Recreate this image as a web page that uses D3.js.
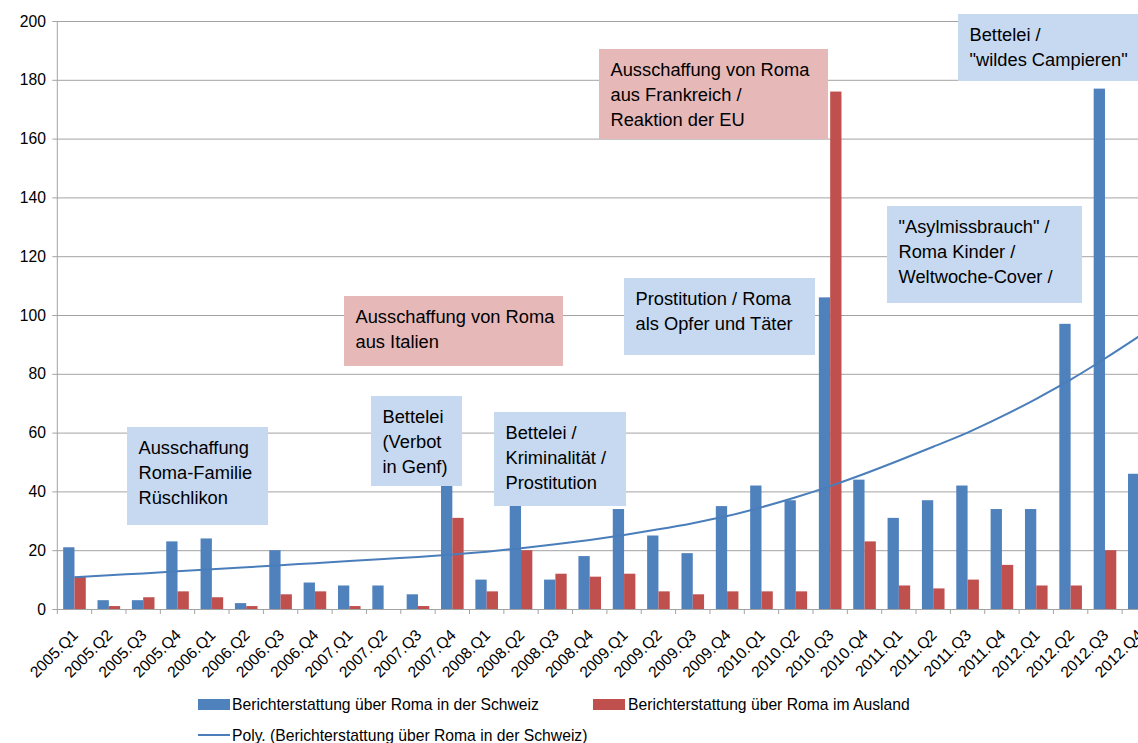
<!DOCTYPE html>
<html>
<head>
<meta charset="utf-8">
<script src="https://cdn.jsdelivr.net/npm/d3@7"></script>
<style>
  html, body { margin: 0; padding: 0; background: #fff; overflow: hidden; }
  svg { display: block; font-family: "Liberation Sans", Arial, sans-serif; }
</style>
</head>
<body>
<svg id="chart"></svg>
<script>
// quartale
const quarters = ["2005.Q1","2005.Q2","2005.Q3","2005.Q4","2006.Q1","2006.Q2","2006.Q3","2006.Q4",
  "2007.Q1","2007.Q2","2007.Q3","2007.Q4","2008.Q1","2008.Q2","2008.Q3","2008.Q4",
  "2009.Q1","2009.Q2","2009.Q3","2009.Q4","2010.Q1","2010.Q2","2010.Q3","2010.Q4",
  "2011.Q1","2011.Q2","2011.Q3","2011.Q4","2012.Q1","2012.Q2","2012.Q3","2012.Q4"];

// Berichterstattung über Roma in der Schweiz
const schweiz = [21, 3, 3, 23, 24, 2, 20, 9, 8, 8, 5, 45, 10, 38, 10, 18,
  34, 25, 19, 35, 42, 37, 106, 44, 31, 37, 42, 34, 34, 97, 177, 46];
// Berichterstattung über Roma im Ausland
const ausland = [11, 1, 4, 6, 4, 1, 5, 6, 1, 0, 1, 31, 6, 20, 12, 11,
  12, 6, 5, 6, 6, 6, 176, 23, 8, 7, 10, 15, 8, 8, 20, 9];
// Poly. Trendlinie
const trend = [10.8, 11.5, 12.1, 12.8, 13.5, 14.2, 14.9, 15.6, 16.3, 17.0, 17.7, 18.5,
  19.5, 20.7, 22.0, 23.5, 25.2, 27.1, 29.2, 31.6, 34.6, 38.0, 41.8, 46.0,
  50.5, 55.2, 60.0, 65.5, 71.5, 78.0, 85.2, 92.8];

const yTicks = [0, 20, 40, 60, 80, 100, 120, 140, 160, 180, 200];

const notes = [
  {lines: ["Ausschaffung", "Roma-Familie", "Rüschlikon"], kind: "ch"},
  {lines: ["Bettelei", "(Verbot", "in Genf)"], kind: "ch"},
  {lines: ["Bettelei /", "Kriminalität /", "Prostitution"], kind: "ch"},
  {lines: ["Ausschaffung von Roma", "aus Italien"], kind: "aus"},
  {lines: ["Prostitution / Roma", "als Opfer und Täter"], kind: "ch"},
  {lines: ["Ausschaffung von Roma", "aus Frankreich /", "Reaktion der EU"], kind: "aus"},
  {lines: ["\"Asylmissbrauch\" /", "Roma Kinder /", "Weltwoche-Cover /"], kind: "ch"},
  {lines: ["Bettelei /", "\"wildes Campieren\""], kind: "ch"}
];
// Kastenpositionen in Pixel: x0, y0, x1, y1
const noteBoxes = [
  [127, 427, 268, 525],
  [371, 396, 462, 486],
  [494, 412, 626, 506],
  [344, 296, 563, 366],
  [624, 278, 815, 355],
  [599, 49, 828, 139],
  [887, 206, 1082, 303],
  [958, 14, 1150, 81]
];

const svgWidth = 1138, svgHeight = 743;
const plotLeft = 57.3, bandW = 34.35, plotTop = 21, plotBottom = 609;

const svg = d3.select("#chart").attr("width", svgWidth).attr("height", svgHeight);

const x = d3.scaleBand().domain(quarters).range([plotLeft, plotLeft + bandW * quarters.length]);
const y = d3.scaleLinear().domain([0, 200]).range([plotBottom, plotTop]);

const barW = 11.3;
const gap = (x.bandwidth() - 2 * barW) / 2;

const blue = "#4f81bd", red = "#c0504d", gridCol = "#a3a3a3";

// gitterlinien
svg.append("g").selectAll("line").data(yTicks).enter().append("line")
  .attr("x1", plotLeft - 5).attr("x2", svgWidth)
  .attr("y1", d => y(d) + 0.5).attr("y2", d => y(d) + 0.5)
  .attr("stroke", gridCol).attr("stroke-width", 1);

// y-achse
svg.append("line").attr("x1", plotLeft).attr("x2", plotLeft).attr("y1", plotTop).attr("y2", plotBottom)
  .attr("stroke", gridCol);
svg.append("g").selectAll("text").data(yTicks).enter().append("text")
  .attr("x", 46).attr("y", d => y(d) + 5.5)
  .attr("text-anchor", "end").attr("font-size", 15.7).attr("fill", "#000")
  .text(d => d);

// x-achse ticks
svg.append("g").selectAll("line").data(d3.range(quarters.length + 1)).enter().append("line")
  .attr("x1", i => plotLeft + i * bandW).attr("x2", i => plotLeft + i * bandW)
  .attr("y1", plotBottom).attr("y2", plotBottom + 5)
  .attr("stroke", gridCol);

// balken
svg.append("g").selectAll("rect").data(schweiz).enter().append("rect")
  .attr("x", (d, i) => x(quarters[i]) + gap)
  .attr("y", d => y(d)).attr("width", barW).attr("height", d => y(0) - y(d))
  .attr("fill", blue);
svg.append("g").selectAll("rect").data(ausland).enter().append("rect")
  .attr("x", (d, i) => x(quarters[i]) + gap + barW)
  .attr("y", d => y(d)).attr("width", barW).attr("height", d => y(0) - y(d))
  .attr("fill", red);

// trendlinie
const line = d3.line()
  .x((d, i) => x(quarters[i]) + x.bandwidth() / 2)
  .y(d => y(d))
  .curve(d3.curveMonotoneX);
svg.append("path").datum(trend).attr("d", line)
  .attr("fill", "none").attr("stroke", "#4a7ebb").attr("stroke-width", 2);

// x-labels
svg.append("g").selectAll("text").data(quarters).enter().append("text")
  .attr("transform", d => "translate(" + (x(d) + x.bandwidth() / 2 + 4.5) + "," + (plotBottom + 27) + ") rotate(-45)")
  .attr("text-anchor", "end").attr("font-size", 15.7).attr("fill", "#000")
  .text(d => d);

// anmerkungen
const ng = svg.append("g").selectAll("g").data(notes).enter().append("g");
ng.append("rect")
  .attr("x", (d, i) => noteBoxes[i][0]).attr("y", (d, i) => noteBoxes[i][1])
  .attr("width", (d, i) => noteBoxes[i][2] - noteBoxes[i][0])
  .attr("height", (d, i) => noteBoxes[i][3] - noteBoxes[i][1])
  .attr("fill", d => d.kind === "aus" ? "#e6b9b8" : "#c6d9f1");
ng.each(function (d, i) {
  const b = noteBoxes[i];
  d3.select(this).selectAll("text").data(d.lines).enter().append("text")
    .attr("x", b[0] + 11.5).attr("y", (t, j) => b[1] + 27 + j * 25)
    .attr("font-size", 18.3).attr("fill", "#000")
    .text(t => t);
});

// legende
const leg = svg.append("g").attr("font-size", 15.7).attr("fill", "#000");
leg.append("rect").attr("x", 198).attr("y", 699).attr("width", 32).attr("height", 11).attr("fill", blue);
leg.append("text").attr("x", 232).attr("y", 710).text("Berichterstattung über Roma in der Schweiz");
leg.append("rect").attr("x", 593).attr("y", 699).attr("width", 32).attr("height", 11).attr("fill", red);
leg.append("text").attr("x", 628).attr("y", 710).text("Berichterstattung über Roma im Ausland");
leg.append("line").attr("x1", 198).attr("x2", 230).attr("y1", 735).attr("y2", 735)
  .attr("stroke", "#4a7ebb").attr("stroke-width", 2);
leg.append("text").attr("x", 232).attr("y", 741).text("Poly. (Berichterstattung über Roma in der Schweiz)");
</script>
</body>
</html>
